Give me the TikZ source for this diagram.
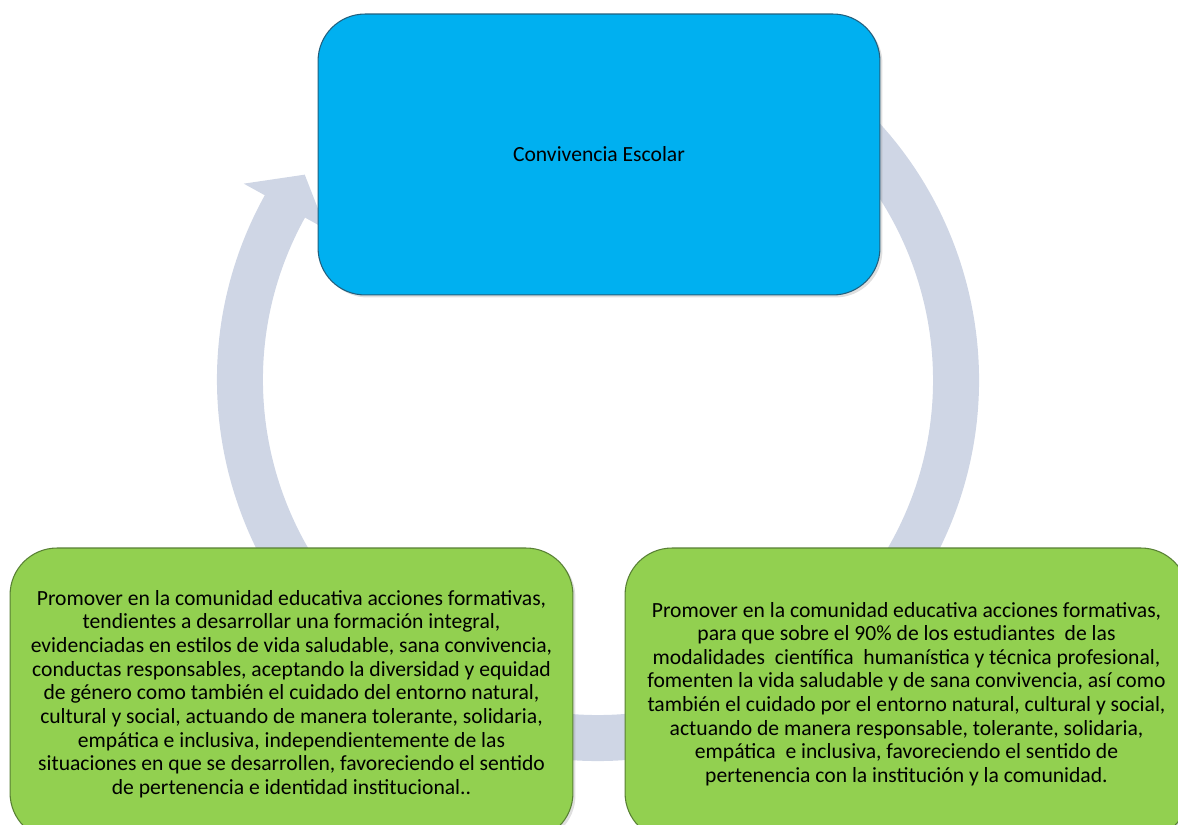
\documentclass[tikz,border=0pt]{standalone}
\usepackage{fontspec}
\setmainfont{Carlito}
\usetikzlibrary{shadows}

\definecolor{ringgray}{RGB}{207,214,229}
\definecolor{cyanbox}{RGB}{0,176,240}
\definecolor{cyanline}{RGB}{35,95,125}
\definecolor{greenbox}{RGB}{146,208,80}
\definecolor{greenline}{RGB}{88,128,52}

\begin{document}
\begin{tikzpicture}[x=0.02cm,y=0.02cm]
\tikzstyle{goal}=[rectangle,rounded corners=0.94cm,minimum width=11.26cm,minimum height=5.84cm,inner sep=0pt,align=center,font=\fontsize{12.3pt}{13.45pt}\selectfont,line width=0.6pt,drop shadow={shadow xshift=0.05cm,shadow yshift=-0.05cm,opacity=0.25}]
\tikzstyle{topic}=[goal,fill=cyanbox,draw=cyanline,minimum width=11.24cm,minimum height=5.62cm]
\tikzstyle{aim}=[goal,fill=greenbox,draw=greenline]

\useasboundingbox (0,0) rectangle (1178,825);

% cycle arrow behind the boxes
\begin{scope}[shift={(598,445)}]
\fill[ringgray] (151:405) -- (145:358) -- (151:311) -- (151:335)
  arc[start angle=151,end angle=420,radius=335] -- (420:381)
  arc[start angle=420,end angle=151,radius=381] -- cycle;
\end{scope}

\node[topic] (conv) at (599,670.5) {Convivencia Escolar};

\node[aim] (goalA) at (291.5,131) {Promover en la comunidad educativa acciones formativas,\\
tendientes a desarrollar una formación integral,\\
evidenciadas en estilos de vida saludable, sana convivencia,\\
conductas responsables, aceptando la diversidad y equidad\\
de género como también el cuidado del entorno natural,\\
cultural y social, actuando de manera tolerante, solidaria,\\
empática e inclusiva, independientemente de las\\
situaciones en que se desarrollen, favoreciendo el sentido\\
de pertenencia e identidad institucional..};

\node[aim] (goalB) at (906.5,131) {Promover en la comunidad educativa acciones formativas,\\
para que sobre el 90\% de los estudiantes~ de las\\
modalidades~ científica~ humanística y técnica profesional,\\
fomenten la vida saludable y de sana convivencia, así como\\
también el cuidado por el entorno natural, cultural y social,\\
actuando de manera responsable, tolerante, solidaria,\\
empática~ e inclusiva, favoreciendo el sentido de\\
pertenencia con la institución y la comunidad.};

\end{tikzpicture}
\end{document}
